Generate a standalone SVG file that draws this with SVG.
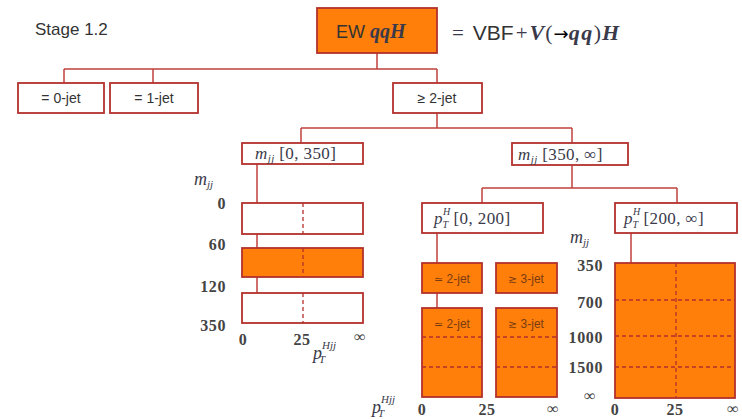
<svg xmlns="http://www.w3.org/2000/svg" width="742" height="419" viewBox="0 0 742 419">
<style>
.bw{fill:#ffffff;stroke:#b3312c;stroke-width:1.8}
.bo{fill:#ff7f0a;stroke:#b3312c;stroke-width:1.8}
.ln{fill:none;stroke:#c0413c;stroke-width:1.5}
.dl{fill:none;stroke:#b3312c;stroke-width:1.3;stroke-dasharray:4 3}
.sans{font-family:"Liberation Sans",Arial,sans-serif;fill:#333}
.ser{font-family:"Liberation Serif","Times New Roman",serif;fill:#3a3a4a}
.it{font-style:italic}
.sym{font-family:"DejaVu Sans",sans-serif}
.num{font-family:"Liberation Serif","Times New Roman",serif;fill:#444;font-size:16px;font-weight:bold;letter-spacing:0.6px}
.sm{font-family:"Liberation Sans",Arial,sans-serif;font-size:12px;fill:#7a3b12;text-anchor:middle}
</style>
<rect width="742" height="419" fill="#ffffff"/>
<text class="sans" x="35" y="35" font-size="17">Stage 1.2</text>

<g id="connectors">
<path class="ln" d="M377 53V69M64 69H437M64 69V83M153 69V83M437 69V83"/>
<path class="ln" d="M437 113V128M301 128H572M301 128V143M572 128V143"/>
<path class="ln" d="M572 165V188M482 188H677M482 188V203M677 188V203"/>
<path class="ln" d="M257 164V293"/>
<path class="ln" d="M437 233V308"/>
<path class="ln" d="M631 233V263"/>
</g>

<g id="ewqqh">
<rect class="bo" x="317" y="8" width="120" height="45"/>
<text x="336" y="38" font-size="18"><tspan class="sans" fill="#3a2a1a">EW </tspan><tspan class="ser it" font-weight="bold" fill="#3a2a1a" font-size="20">qqH</tspan></text>
</g>
<g id="formula">
<text x="452" y="40" font-size="21"><tspan class="ser">=</tspan><tspan class="sans" dx="9">VBF</tspan><tspan class="ser" dx="2">+</tspan><tspan class="ser it" font-weight="bold" font-size="22" dx="2" letter-spacing="1">V</tspan><tspan class="ser" font-size="22" letter-spacing="1">(</tspan><tspan class="sym" font-size="18">→</tspan><tspan class="ser it" font-weight="bold" font-size="22" letter-spacing="1.5">qq</tspan><tspan class="ser" font-size="22" letter-spacing="1">)</tspan><tspan class="ser it" font-weight="bold" font-size="22">H</tspan></text>
</g>

<g id="jet0">
<rect class="bw" x="18" y="83" width="86" height="30"/>
<text class="sans" x="61" y="103" font-size="14" text-anchor="middle">= 0-jet</text>
</g>
<g id="jet1">
<rect class="bw" x="110" y="83" width="88" height="30"/>
<text class="sans" x="154" y="103" font-size="14" text-anchor="middle">= 1-jet</text>
</g>
<g id="jet2">
<rect class="bw" x="393" y="83" width="89" height="30"/>
<text class="sans" x="437" y="103" font-size="14" text-anchor="middle">≥ 2-jet</text>
</g>

<g id="mjj-low">
<rect class="bw" x="242" y="143" width="121" height="21"/>
<text class="ser" x="255" y="159" font-size="17" letter-spacing="0.4"><tspan class="it">m</tspan><tspan class="it" font-size="11" dy="3">jj</tspan><tspan dy="-3"> [0, 350]</tspan></text>
</g>
<g id="mjj-high">
<rect class="bw" x="512" y="143" width="116" height="22"/>
<text class="ser" x="518" y="160" font-size="17" letter-spacing="0.4"><tspan class="it">m</tspan><tspan class="it" font-size="11" dy="3">jj</tspan><tspan dy="-3"> [350, ∞]</tspan></text>
</g>
<g id="pth-low">
<rect class="bw" x="422" y="203" width="121" height="30"/>
<text class="ser" x="434" y="224" font-size="17" letter-spacing="0.4"><tspan class="it">p</tspan><tspan class="it" font-size="10" dy="-9">H</tspan><tspan class="it" font-size="10" dx="-8" dy="13">T</tspan><tspan dx="5" dy="-4">[0, 200]</tspan></text>
</g>
<g id="pth-high">
<rect class="bw" x="615" y="203" width="122" height="30"/>
<text class="ser" x="624" y="224" font-size="17" letter-spacing="0.4"><tspan class="it">p</tspan><tspan class="it" font-size="10" dy="-9">H</tspan><tspan class="it" font-size="10" dx="-8" dy="13">T</tspan><tspan dx="5" dy="-4">[200, ∞]</tspan></text>
</g>

<g id="left-grid">
<rect class="bw" x="242" y="203" width="121" height="31"/>
<line class="dl" x1="303" y1="203" x2="303" y2="234"/>
<rect class="bo" x="242" y="248" width="121" height="29"/>
<line class="dl" x1="303" y1="248" x2="303" y2="277"/>
<rect class="bw" x="242" y="293" width="121" height="30"/>
<line class="dl" x1="303" y1="293" x2="303" y2="323"/>
<text class="ser" x="194" y="185" font-size="18"><tspan class="it">m</tspan><tspan class="it" font-size="11" dy="3">jj</tspan></text>
<text class="num" x="226" y="209" text-anchor="end">0</text>
<text class="num" x="226" y="250" text-anchor="end">60</text>
<text class="num" x="226" y="292" text-anchor="end">120</text>
<text class="num" x="226" y="331" text-anchor="end">350</text>
<text class="num" x="243" y="345" text-anchor="middle">0</text>
<text class="num" x="302" y="345" text-anchor="middle">25</text>
<text class="num" x="360" y="342" text-anchor="middle" font-weight="normal" font-size="18">∞</text>
<text class="ser" x="313" y="359" font-size="18"><tspan class="it">p</tspan><tspan class="it" font-size="11" dy="-10">Hjj</tspan><tspan class="it" font-size="11" dx="-17" dy="14">T</tspan></text>
</g>

<g id="mid-grid">
<rect class="bo" x="422" y="263" width="60" height="30"/>
<text class="sm" x="452" y="283"><tspan class="sym" font-size="11">≃</tspan> 2-jet</text>
<rect class="bo" x="496" y="263" width="61" height="30"/>
<text class="sm" x="526" y="283"><tspan class="sym" font-size="11">≳</tspan> 3-jet</text>
<rect class="bo" x="422" y="308" width="60" height="89"/>
<text class="sm" x="452" y="328"><tspan class="sym" font-size="11">≃</tspan> 2-jet</text>
<line class="dl" x1="422" y1="337" x2="482" y2="337"/>
<line class="dl" x1="422" y1="367" x2="482" y2="367"/>
<rect class="bo" x="496" y="308" width="61" height="89"/>
<text class="sm" x="526" y="328"><tspan class="sym" font-size="11">≳</tspan> 3-jet</text>
<line class="dl" x1="496" y1="337" x2="557" y2="337"/>
<line class="dl" x1="496" y1="367" x2="557" y2="367"/>
</g>

<g id="right-grid">
<rect class="bo" x="615" y="263" width="120" height="135"/>
<line class="dl" x1="676" y1="263" x2="676" y2="398"/>
<line class="dl" x1="615" y1="300" x2="735" y2="300"/>
<line class="dl" x1="615" y1="336" x2="735" y2="336"/>
<line class="dl" x1="615" y1="367" x2="735" y2="367"/>
<text class="ser" x="570" y="243" font-size="18"><tspan class="it">m</tspan><tspan class="it" font-size="11" dy="3">jj</tspan></text>
<text class="num" x="603" y="271" text-anchor="end">350</text>
<text class="num" x="603" y="308" text-anchor="end">700</text>
<text class="num" x="603" y="343" text-anchor="end">1000</text>
<text class="num" x="603" y="373" text-anchor="end">1500</text>
<text class="num" x="590" y="401" text-anchor="middle" font-weight="normal" font-size="18">∞</text>
</g>

<g id="bottom-axis">
<text class="ser" x="372" y="413" font-size="18"><tspan class="it">p</tspan><tspan class="it" font-size="11" dy="-10">Hjj</tspan><tspan class="it" font-size="11" dx="-17" dy="14">T</tspan></text>
<text class="num" x="422" y="415" text-anchor="middle" font-size="14">0</text>
<text class="num" x="487" y="415" text-anchor="middle" font-size="14">25</text>
<text class="num" x="553" y="414" text-anchor="middle" font-weight="normal" font-size="18">∞</text>
<text class="num" x="615" y="415" text-anchor="middle" font-size="14">0</text>
<text class="num" x="675" y="415" text-anchor="middle" font-size="14">25</text>
<text class="num" x="733" y="414" text-anchor="middle" font-weight="normal" font-size="18">∞</text>
</g>
</svg>
